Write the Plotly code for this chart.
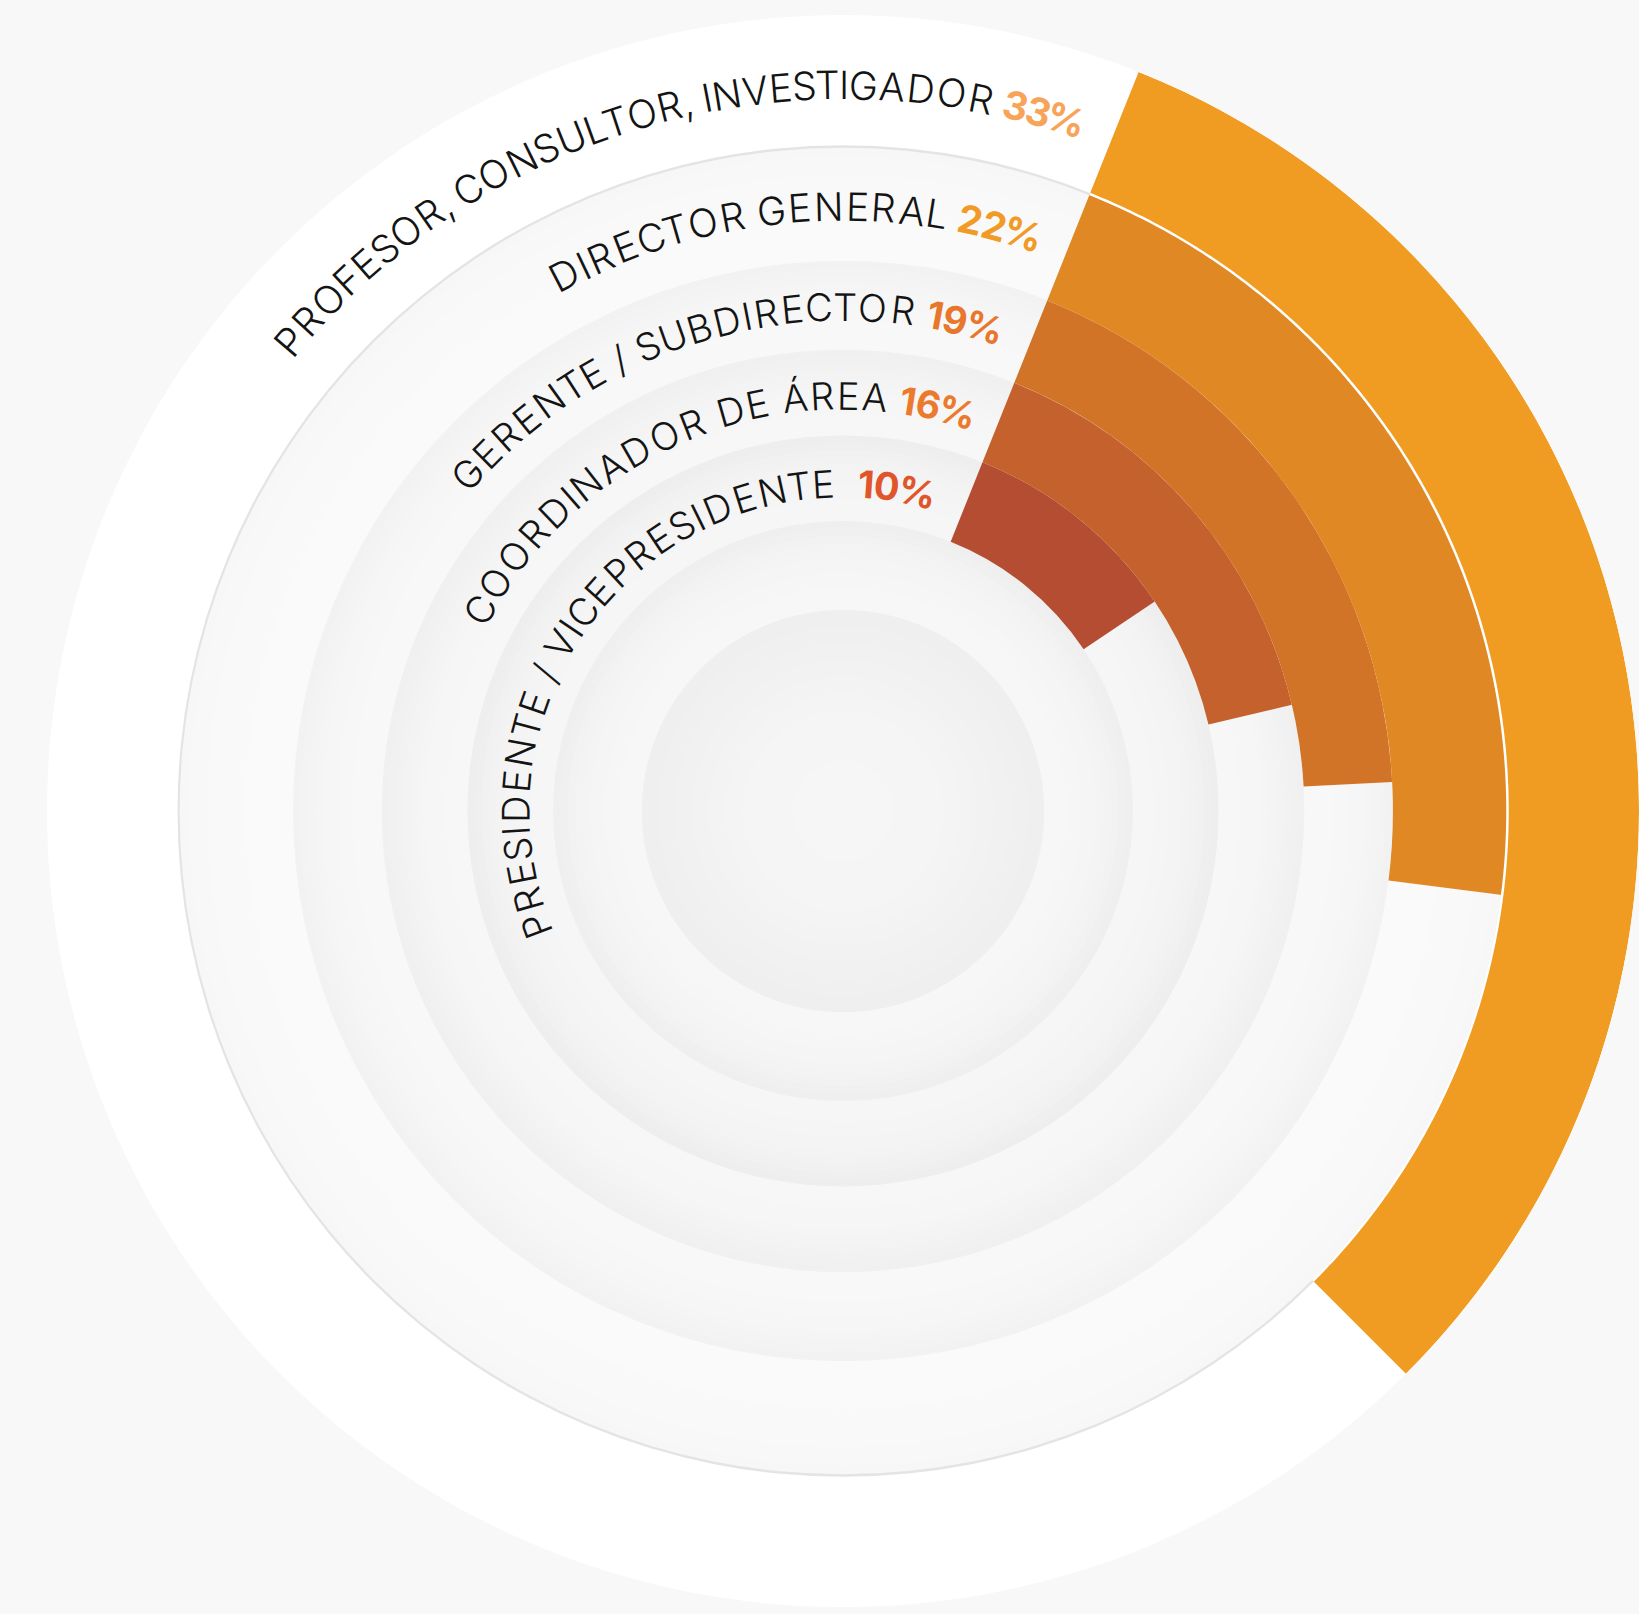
import math
import numpy as np
import plotly.graph_objects as go

# ---------------- data (inner ring -> outer ring) ----------------
categories = [
    "PRESIDENTE / VICEPRESIDENTE",
    "COORDINADOR DE ÁREA",
    "GERENTE / SUBDIRECTOR",
    "DIRECTOR GENERAL",
    "PROFESOR, CONSULTOR, INVESTIGADOR",
]
values = [10, 16, 19, 22, 33]
pct_labels = ["10%", "16%", "19%", "22%", "33%"]

# ---------------- styling / layout constants ----------------
W, H = 1639, 1614
R_PX = 796            # polar radius in screen px
CX, CY = 843, 811     # polar centre in screen px (from top-left)
R_MAX = 799           # radial axis range (reference px units)
S = R_PX / R_MAX

START = 21.8          # start angle of bars, degrees clockwise from top
DEG_PER_PCT = 3.43    # angular scale

ring_edges = [0, 202, 291, 377, 463, 552, 667, 799]
ring_grays = [(246, 238), (247, 238), (246, 237), (247, 239), (248, 241), (250, 247), (255, 255)]
bar_colors = ["#B54D32", "#C4612C", "#D27428", "#E08824", "#F09C22"]
pct_colors = ["#E0552A", "#EC7A2C", "#E8762B", "#F19A26", "#F7A459"]

# label geometry: (first glyph angle, last glyph angle, text radius, font size)
label_geom = [
    (-110.5, 13.1, 329, 38),
    (-61.0, 16.0, 417, 38),
    (-48.1, 16.3, 506, 38),
    (-27.5, 17.3, 607, 39),
    (-49.6, 17.9, 729, 39),
]
label_gap = ["  ", " ", " ", " ", " "]

# approximate relative advance widths (em) of the original geometric typeface
CW = {
    "A": .70, "Á": .70, "C": .70, "D": .78, "E": .63, "F": .60, "G": .75, "I": .27,
    "L": .55, "N": .78, "O": .82, "P": .67, "R": .68, "S": .60, "T": .56, "U": .76,
    "V": .68, " ": .26, ",": .22, "/": .40,
    "0": .66, "1": .40, "2": .60, "3": .61, "6": .64, "9": .64, "%": .84,
}

fig = go.Figure()

# ---------------- background rings with soft shading ----------------
bg_r, bg_base, bg_col = [], [], []
NSUB = 12
for j in range(len(ring_edges) - 1):
    a, b = ring_edges[j], ring_edges[j + 1]
    g_in, g_out = ring_grays[j]
    for k in range(NSUB):
        lo = a + (b - a) * k / NSUB
        hi = a + (b - a) * (k + 1) / NSUB
        t = ((k + 0.5) / NSUB) ** 2.2
        g = round(g_in + (g_out - g_in) * t)
        bg_base.append(lo)
        bg_r.append(hi - lo + 0.6)
        bg_col.append(f"rgb({g},{g},{g})")
# thin grey circle at outer boundary of 2nd ring
bg_base.append(665.8)
bg_r.append(2.2)
bg_col.append("rgb(228,228,228)")

fig.add_trace(go.Barpolar(
    r=bg_r, base=bg_base, theta=[180] * len(bg_r), width=[360] * len(bg_r),
    marker=dict(color=bg_col, line=dict(width=0)),
    hoverinfo="skip", showlegend=False,
))

# ---------------- data bars ----------------
spans = [v * DEG_PER_PCT for v in values]
fig.add_trace(go.Barpolar(
    r=[ring_edges[i + 3] - ring_edges[i + 2] for i in range(5)],
    base=[ring_edges[i + 2] for i in range(5)],
    theta=[START + sp / 2 for sp in spans],
    width=spans,
    marker=dict(color=bar_colors, line=dict(width=0)),
    customdata=categories,
    hovertemplate="%{customdata}<extra></extra>",
    showlegend=False,
))

# white separator along the inner edge of the outer bar
sep_theta = np.linspace(START, START + spans[4], 300)
fig.add_trace(go.Scatterpolar(
    r=[ring_edges[6]] * len(sep_theta), theta=sep_theta, mode="lines",
    line=dict(color="white", width=2.5), hoverinfo="skip", showlegend=False,
))

# ---------------- curved labels (one annotation per glyph) ----------------
def to_paper(r, phi):
    ph = math.radians(phi)
    px = CX + S * r * math.sin(ph)
    py = CY - S * r * math.cos(ph)
    return px / W, 1 - py / H

annotations = []
for i in range(5):
    name = categories[i]
    pct = pct_labels[i]
    full = name + label_gap[i] + pct
    kinds = ["n"] * (len(name) + len(label_gap[i])) + ["p"] * len(pct)
    widths = [CW.get(ch, 0.6) for ch in full]
    centres = []
    acc = 0
    for w in widths:
        centres.append(acc + w / 2)
        acc += w
    a0, a1, rr, fs = label_geom[i]
    c0, c1 = centres[0], centres[-1]
    for ch, c, kd in zip(full, centres, kinds):
        if ch == " ":
            continue
        phi = a0 + (a1 - a0) * (c - c0) / (c1 - c0)
        x, y = to_paper(rr, phi)
        if kd == "n":
            font = dict(family="Inter, Lato, 'Noto Sans', sans-serif", size=fs,
                        color="#141414", weight=300)
        else:
            font = dict(family="Inter, Lato, 'Noto Sans', sans-serif", size=fs,
                        color=pct_colors[i], weight=700)
        annotations.append(dict(
            x=x, y=y, xref="paper", yref="paper", text=ch, showarrow=False,
            textangle=phi, xanchor="center", yanchor="middle", font=font,
        ))

# ---------------- soft shadow around the outer disc ----------------
shapes = []
for k in range(1, 31):
    rad = (R_MAX + 3.0 * k) * S
    shapes.append(dict(
        type="circle", xref="paper", yref="paper", layer="below",
        x0=(CX - rad) / W, x1=(CX + rad) / W,
        y0=1 - (CY + rad) / H, y1=1 - (CY - rad) / H,
        fillcolor="rgba(0,0,0,0.0017)", line=dict(width=0),
    ))

x0 = (CX - R_PX) / W
x1 = (CX + R_PX) / W
y0 = (H - CY - R_PX) / H
y1 = (H - CY + R_PX) / H

fig.update_layout(
    width=W, height=H, autosize=False,
    margin=dict(l=0, r=0, t=0, b=0, pad=0),
    paper_bgcolor="#f8f8f8",
    showlegend=False,
    polar=dict(
        domain=dict(x=[x0, min(x1, 1)], y=[y0, y1]),
        bgcolor="rgba(0,0,0,0)",
        barmode="overlay",
        radialaxis=dict(visible=False, range=[0, R_MAX], showgrid=False),
        angularaxis=dict(visible=False, direction="clockwise", rotation=90,
                         showgrid=False, thetaunit="degrees"),
    ),
    annotations=annotations,
    shapes=shapes,
)

fig.write_html(
    "out.html",
    config={"displayModeBar": False},
    post_script="document.body.style.margin='0px';document.body.style.padding='0px';"
                "document.body.style.overflow='hidden';",
)
